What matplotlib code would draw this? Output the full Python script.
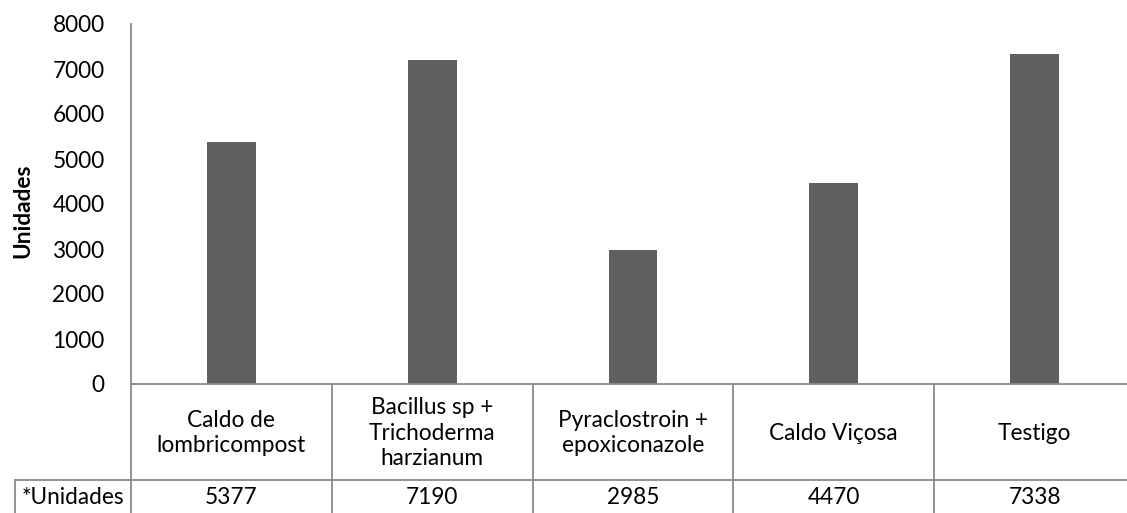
import matplotlib.pyplot as plt

plt.rcParams["font.family"] = ["Lato", "DejaVu Sans"]

categories = [
    "Caldo de\nlombricompost",
    "Bacillus sp +\nTrichoderma\nharzianum",
    "Pyraclostroin +\nepoxiconazole",
    "Caldo Viçosa",
    "Testigo",
]
unidades = [5377, 7190, 2985, 4470, 7338]
yticks = [0, 1000, 2000, 3000, 4000, 5000, 6000, 7000, 8000]
row_label = "*Unidades"
ylabel = "Unidades"

BAR_COLOR = "#5f5f5f"
LINE_COLOR = "#8a8a8a"
FS = 16.3

W, H = 1127, 513
fig = plt.figure(figsize=(W / 100, H / 100), dpi=100)

# plot area in pixels (extends slightly past the right edge, as in the source)
left, right, top, zero, bottom = 131, 1135, 24, 384, 513
ax = fig.add_axes([left / W, (H - zero) / H, (right - left) / W, (zero - top) / H])
n = len(categories)
x = [i + 0.5 for i in range(n)]
ax.bar(x, unidades, width=0.244, color=BAR_COLOR)
ax.set_xlim(0, n)
ax.set_ylim(0, 8000)
ax.set_yticks(yticks)
ax.set_yticklabels([str(v) for v in yticks], fontsize=FS)
ax.tick_params(axis="y", length=0, pad=19)
ax.set_xticks([])
for s in ["top", "right"]:
    ax.spines[s].set_visible(False)
for s in ["left", "bottom"]:
    ax.spines[s].set_color(LINE_COLOR)
    ax.spines[s].set_linewidth(1.3)
fig.text(23 / W, 1 - 211 / H, ylabel, rotation=90, ha="center", va="center",
         fontsize=FS, fontweight="bold")

# data table below the axis
tab = fig.add_axes([left / W, 0, (right - left) / W, (bottom - zero) / H])
tab.set_xlim(0, n)
tab.set_ylim(bottom - zero, 0)
tab.axis("off")
row1 = 96
col_w = (right - left) / n
label_left = (15 - left) / col_w
lw = 1.3
for i in range(n + 1):
    tab.plot([i, i], [0, bottom - zero], color=LINE_COLOR, lw=lw, clip_on=False)
tab.plot([label_left, n], [row1, row1], color=LINE_COLOR, lw=lw, clip_on=False)
tab.plot([label_left, label_left], [row1, bottom - zero], color=LINE_COLOR, lw=lw,
         clip_on=False)
for xi, cat, val in zip(x, categories, unidades):
    tab.text(xi, row1 / 2 + 1, cat, ha="center", va="center", fontsize=FS,
             linespacing=1.28)
    tab.text(xi, (row1 + bottom - zero) / 2 + 1, f"{val}", ha="center",
             va="center", fontsize=FS)
tab.text(label_left / 2, (row1 + bottom - zero) / 2 + 1, row_label, ha="center",
         va="center", fontsize=FS, clip_on=False)

fig.savefig("out.png", dpi=100)
